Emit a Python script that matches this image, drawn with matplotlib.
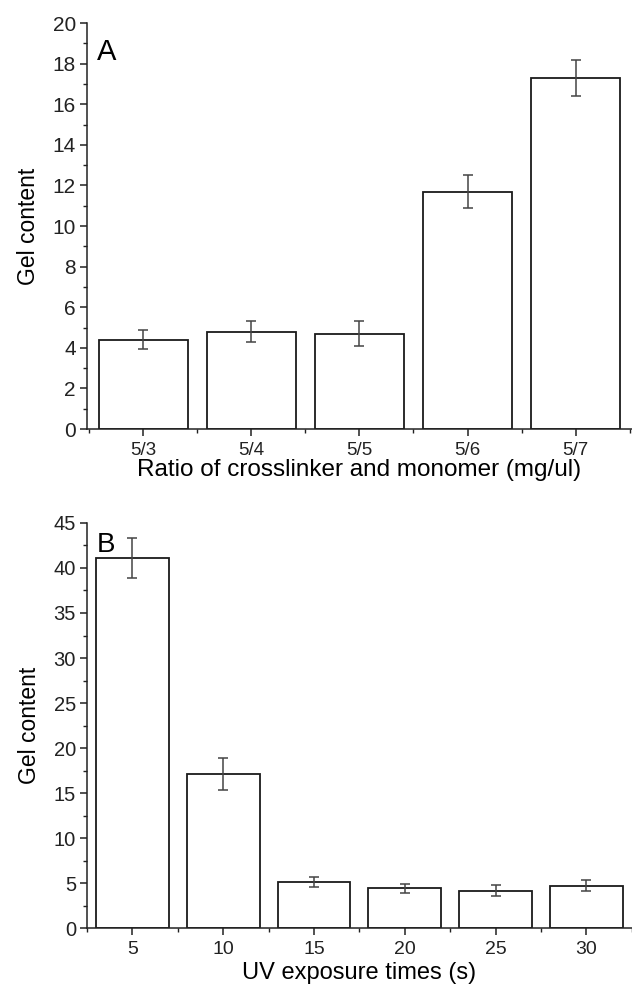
import matplotlib
matplotlib.use("Agg")
import matplotlib.pyplot as plt
import numpy as np
from matplotlib.ticker import MultipleLocator

plt.rcParams['font.family'] = ['Liberation Sans', 'DejaVu Sans']

# panel A data
ratio_labels = ["5/3", "5/4", "5/5", "5/6", "5/7"]
gel_a = [4.4, 4.8, 4.7, 11.7, 17.3]
err_a = [0.47, 0.52, 0.6, 0.8, 0.9]

# panel B data
uv_labels = ["5", "10", "15", "20", "25", "30"]
gel_b = [41.1, 17.1, 5.1, 4.4, 4.15, 4.7]
err_b = [2.2, 1.8, 0.55, 0.5, 0.62, 0.63]

fig = plt.figure(figsize=(6.32, 9.84), dpi=100)
ax1 = fig.add_axes([0.1377, 0.564, 0.862, 0.4126])
ax2 = fig.add_axes([0.1377, 0.0569, 0.862, 0.4116])


def style(ax, ysize):
    for s in ["top", "right"]:
        ax.spines[s].set_visible(False)
    for s in ["left", "bottom"]:
        ax.spines[s].set_linewidth(1.1)
        ax.spines[s].set_color("#222222")
    ax.tick_params(which="major", direction="out", length=5, width=1.1,
                   colors="#222222")
    ax.tick_params(which="minor", direction="out", length=3, width=1.0,
                   colors="#222222")
    ax.tick_params(axis="y", which="major", labelsize=ysize, pad=3)
    ax.tick_params(axis="x", which="major", labelsize=13.5, pad=4)


xa = np.arange(1, len(gel_a) + 1)
ax1.bar(xa, gel_a, width=0.82, color="white", edgecolor="#1a1a1a", linewidth=1.3)
ax1.errorbar(xa, gel_a, yerr=err_a, fmt="none", ecolor="#444444",
             elinewidth=1.1, capsize=3.5, capthick=1.1)
ax1.set_xlim(0.48, 5.52)
ax1.set_ylim(0, 20)
ax1.set_xticks(xa)
ax1.set_xticklabels(ratio_labels)
ax1.xaxis.set_minor_locator(MultipleLocator(0.5))
ax1.yaxis.set_major_locator(MultipleLocator(2))
ax1.yaxis.set_minor_locator(MultipleLocator(1))
style(ax1, 15)
ax1.set_xlabel("Ratio of crosslinker and monomer (mg/ul)", fontsize=17.5, labelpad=0)
ax1.set_ylabel("Gel content", fontsize=16.5, labelpad=9)
ax1.text(0.018, 0.963, "A", transform=ax1.transAxes, fontsize=21, va="top")

xb = np.arange(1, len(gel_b) + 1)
ax2.bar(xb, gel_b, width=0.8, color="white", edgecolor="#1a1a1a", linewidth=1.3)
ax2.errorbar(xb, gel_b, yerr=err_b, fmt="none", ecolor="#444444",
             elinewidth=1.1, capsize=3.5, capthick=1.1)
ax2.set_xlim(0.5, 6.5)
ax2.set_ylim(0, 45)
ax2.set_xticks(xb)
ax2.set_xticklabels(uv_labels)
ax2.xaxis.set_minor_locator(MultipleLocator(0.5))
ax2.yaxis.set_major_locator(MultipleLocator(5))
ax2.yaxis.set_minor_locator(MultipleLocator(2.5))
style(ax2, 14.5)
ax2.tick_params(axis="x", labelsize=14, pad=4.5)
ax2.set_xlabel("UV exposure times (s)", fontsize=17)
ax2.xaxis.set_label_coords(0.5, -0.127)
ax2.xaxis.label.set_va("baseline")
ax2.set_ylabel("Gel content", fontsize=16.5, labelpad=9)
ax2.text(0.018, 0.978, "B", transform=ax2.transAxes, fontsize=20, va="top")

fig.savefig("out.png", dpi=100)
